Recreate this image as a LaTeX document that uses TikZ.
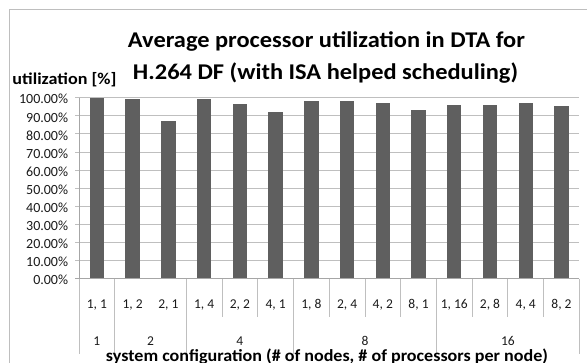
\documentclass[tikz,border=0pt]{standalone}
\usepackage{graphicx}
\usepackage{fontspec}
\setmainfont{Carlito}
\definecolor{barc}{HTML}{5F5F5F}
\definecolor{gridc}{HTML}{BFBFBF}
\definecolor{axisc}{HTML}{A6A6A6}
\definecolor{borderc}{HTML}{BEBEBE}
\definecolor{txtc}{HTML}{1A1A1A}
\begin{document}
\begin{tikzpicture}[x=1pt,y=-1pt,
  gridline/.style={draw=gridc,line width=0.8pt},
  axisline/.style={draw=axisc,line width=0.8pt},
  ticklab/.style={anchor=base east,inner sep=0pt,text=txtc,font=\fontsize{14}{16}\selectfont},
  catlab/.style={anchor=base,inner sep=0pt,text=txtc,font=\fontsize{13.5}{16}\selectfont},
  titlefont/.style={anchor=base,inner sep=0pt,font=\bfseries\fontsize{22.5}{26}\selectfont},
  axtitle/.style={inner sep=0pt,font=\bfseries\fontsize{17}{20}\selectfont}]
\useasboundingbox (0,0) rectangle (587,363);
\draw[borderc,line width=0.8pt] (9,370) -- (9,9) -- (595,9);
% titles
\node[titlefont] (t1) at (326.5,47.7) {\resizebox{397pt}{\height}{Average processor utilization in DTA for}};
\node[titlefont] (t2) at (325.5,79.3) {\resizebox{385pt}{\height}{H.264 DF (with ISA helped scheduling)}};
\node[axtitle,anchor=base west,font=\bfseries\fontsize{16.5}{20}\selectfont] (yt) at (12.3,85) {\resizebox{104pt}{\height}{utilization [\%]}};
% gridlines and tick labels
\foreach \i in {0,...,10}{
  \pgfmathsetmacro{\yy}{278.7-\i*18.1}
  \draw[gridline] (75,\yy) -- (579.3,\yy);
  \node[ticklab] (tl\i) at (68.3,\yy+6.3) {\ifnum\i=0 0\else\i0\fi.00\%};
}
% bars
\foreach \v [count=\k] in {100,99.3,87.1,99.3,96.5,92.1,98.2,98.2,97.1,93.2,96,96,97.1,95.4}{
  \pgfmathsetmacro{\xc}{79+35.74*(\k-0.5)}
  \pgfmathsetmacro{\yt}{278.7-\v*1.81}
  \fill[barc] (\xc-7.2,\yt) rectangle (\xc+7.2,278.7);
}
% axes
\draw[axisline] (75,278.7) -- (579.3,278.7);
\draw[axisline] (79,97.7) -- (79,278.7);
% category separators
\foreach \k in {2,5,6,8,9,10,12,13,14}{
  \pgfmathsetmacro{\xs}{79+35.74*(\k-1)}
  \draw[gridline] (\xs,278.7) -- (\xs,316.7);
}
\foreach \k in {0,1,3,6,10,14}{
  \pgfmathsetmacro{\xs}{79+35.74*\k}
  \draw[gridline] (\xs,278.7) -- (\xs,354);
}
% category labels
\foreach \t [count=\k] in {{1, 1},{1, 2},{2, 1},{1, 4},{2, 2},{4, 1},{1, 8},{2, 4},{4, 2},{8, 1},{1, 16},{2, 8},{4, 4},{8, 2}}{
  \node[catlab] (c\k) at ({79+35.74*(\k-0.5)},308.3) {\t};
}
\node[catlab] (g1) at ({79+35.74*0.5},345.7) {1};
\node[catlab] (g2) at ({79+35.74*2},345.7) {2};
\node[catlab] (g4) at ({79+35.74*4.5},345.7) {4};
\node[catlab] (g8) at ({79+35.74*8},345.7) {8};
\node[catlab] (g16) at ({79+35.74*12},345.7) {16};
\node[axtitle,anchor=base] (xt) at (327,361.7) {\resizebox{442pt}{\height}{system configuration (\# of nodes, \# of processors per node)}};
\end{tikzpicture}
\end{document}
